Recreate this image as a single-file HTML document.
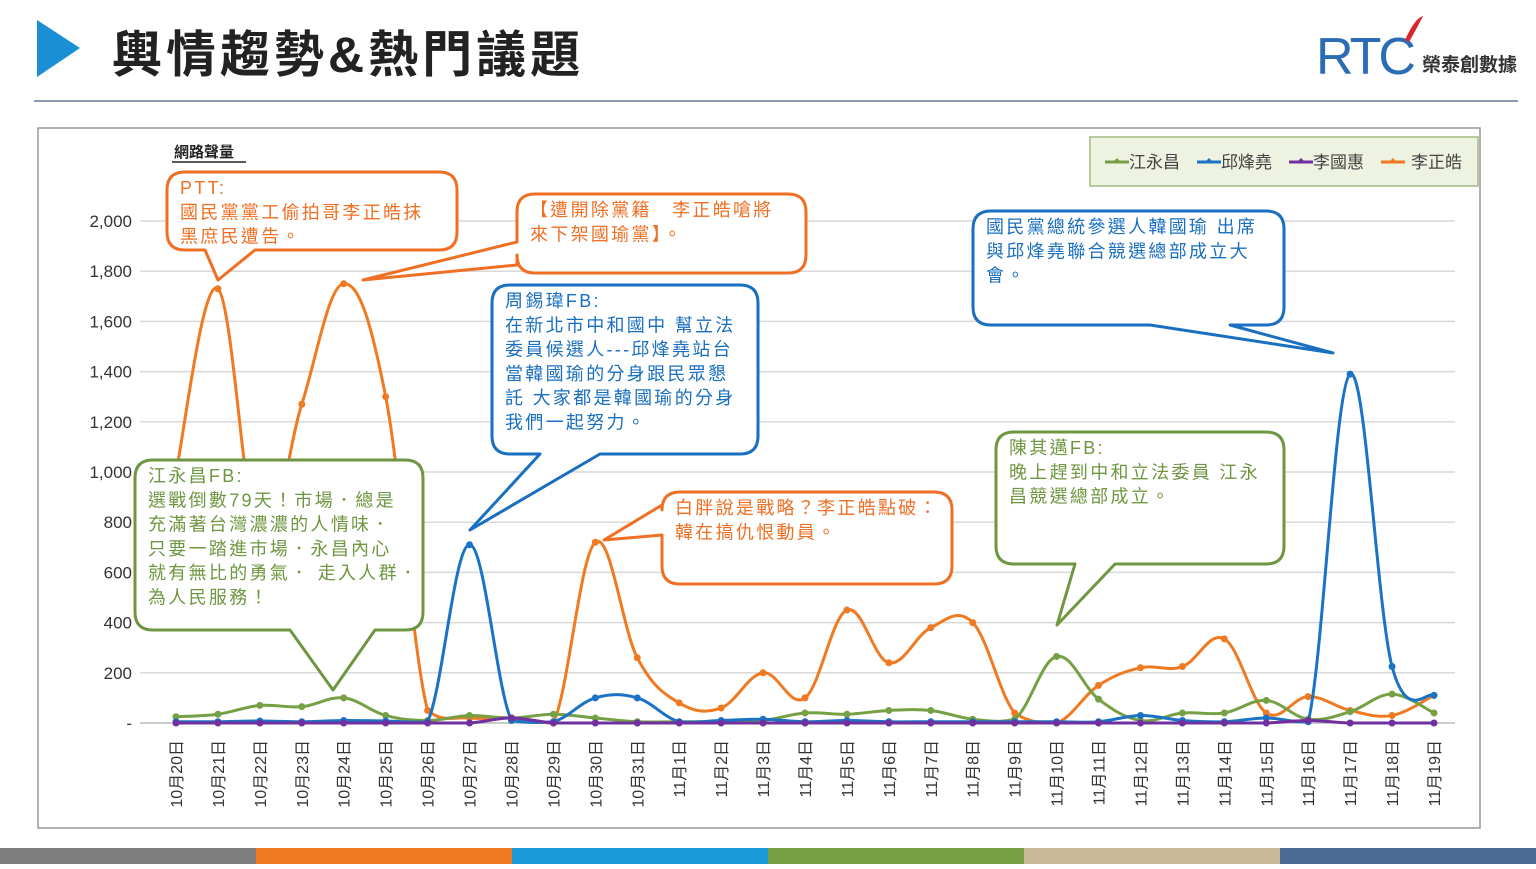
<!DOCTYPE html>
<html><head><meta charset="utf-8">
<style>
html,body{margin:0;padding:0;background:#fff;}
body{width:1536px;height:864px;overflow:hidden;position:relative;font-family:"Liberation Sans","Noto Sans CJK TC",sans-serif;}
svg text{font-family:"Liberation Sans","Noto Sans CJK TC",sans-serif;}
</style></head>
<body>
<svg id="chart" width="1536" height="864" viewBox="0 0 1536 864">
  <polygon points="37,20 37,77 80,48" fill="#1a8fd6"/>
  <text x="112" y="72" font-size="50" font-weight="bold" fill="#222" letter-spacing="4">輿情趨勢&amp;熱門議題</text>
  <g>
    <text x="1316" y="74" font-size="52" fill="#2a6db5" font-family="Liberation Sans" letter-spacing="-3">RTC</text>
    <path d="M1405,40 q10,-22 18,-24 q-6,12 -14,26z" fill="#d8262e"/>
    <text x="1422" y="71" font-size="19" font-weight="bold" fill="#333">榮泰創數據</text>
  </g>
  <line x1="34" y1="101" x2="1518" y2="101" stroke="#8a9aaa" stroke-width="2"/>
  <rect x="38" y="128" width="1442" height="700" fill="#fff" stroke="#999" stroke-width="1.5"/>
  <text x="174" y="157" font-size="15" font-weight="bold" fill="#222">網路聲量</text>
  <line x1="172" y1="162" x2="246" y2="162" stroke="#222" stroke-width="1.5"/>
  <g id="grid"></g>
  <g id="series"></g>
  <g id="xlabels"></g>
  <g id="legend">
    <rect x="1090" y="137" width="388" height="49" fill="#eef2e1" stroke="#b9c99e" stroke-width="2"/>
  </g>
  <g id="callouts"></g>
  <g>
    <rect x="0" y="848" width="256" height="16" fill="#7f7f7f"/>
    <rect x="256" y="848" width="256" height="16" fill="#f07a22"/>
    <rect x="512" y="848" width="256" height="16" fill="#1a9ad6"/>
    <rect x="768" y="848" width="256" height="16" fill="#76a044"/>
    <rect x="1024" y="848" width="256" height="16" fill="#c9b79a"/>
    <rect x="1280" y="848" width="256" height="16" fill="#4a6a94"/>
  </g>
</svg>
<script>
const categories=["10月20日","10月21日","10月22日","10月23日","10月24日","10月25日","10月26日","10月27日","10月28日","10月29日","10月30日","10月31日","11月1日","11月2日","11月3日","11月4日","11月5日","11月6日","11月7日","11月8日","11月9日","11月10日","11月11日","11月12日","11月13日","11月14日","11月15日","11月16日","11月17日","11月18日","11月19日"];
const jiangValues=[25,35,70,65,100,30,10,30,20,35,20,5,5,5,10,40,35,50,50,15,15,265,95,10,40,40,90,15,45,115,40];
const qiuValues=[5,5,8,5,10,8,5,710,10,5,100,100,5,10,15,5,10,5,5,5,5,5,5,30,10,5,20,5,1390,225,110];
const leeGuoValues=[0,0,0,0,0,0,0,0,20,0,0,0,0,0,0,0,0,0,0,0,0,0,0,0,0,0,0,10,0,0,0];
const leeZhengValues=[1000,1730,700,1270,1750,1300,50,20,20,0,720,260,80,60,200,100,450,240,380,400,40,0,150,220,225,335,40,105,50,30,110];
const yTicks=[0,200,400,600,800,1000,1200,1400,1600,1800,2000];
const yTickLabels=["-","200","400","600","800","1,000","1,200","1,400","1,600","1,800","2,000"];
const seriesNames=["江永昌","邱烽堯","李國惠","李正皓"];
const seriesColors=["#76a044","#1a73c4","#7030a0","#f07a22"];

const NS="http://www.w3.org/2000/svg";
function mk(tag,attrs,parent){const e=document.createElementNS(NS,tag);for(const k in attrs)e.setAttribute(k,attrs[k]);parent.appendChild(e);return e;}
const X0=176,X1=1434,Y0=723,Y1=221;
function xs(i){return X0+(X1-X0)*i/(categories.length-1);}
function ys(v){return Y0-(Y0-Y1)*v/2000;}

const grid=document.getElementById('grid');
yTicks.forEach((t,i)=>{
  const l=mk('line',{x1:140,x2:1455,y1:ys(t),y2:ys(t),stroke:t===0?'#bbb':'#d9d9d9','stroke-width':1.5},grid);
  
  
  const tx=mk('text',{x:132,y:ys(t)+6,'font-size':17,fill:'#333','text-anchor':'end'},grid);
  tx.textContent=yTickLabels[i];
  
  
});
const xl=document.getElementById('xlabels');
categories.forEach((c,i)=>{
  const t=mk('text',{x:0,y:0,'font-size':16,fill:'#333','text-anchor':'end',transform:`translate(${xs(i)+6},740) rotate(-90)`},xl);
  t.textContent=c;
  
  
});
function smooth(pts){
  let d=`M${pts[0][0]},${pts[0][1]}`;
  for(let i=0;i<pts.length-1;i++){
    const p0=pts[i-1]||pts[i],p1=pts[i],p2=pts[i+1],p3=pts[i+2]||p2;
    const t=0.18;
    const c1=[p1[0]+(p2[0]-p0[0])*t,Math.min(Y0,p1[1]+(p2[1]-p0[1])*t)];
    const c2=[p2[0]-(p3[0]-p1[0])*t,Math.min(Y0,p2[1]-(p3[1]-p1[1])*t)];
    d+=` C${c1[0]},${c1[1]} ${c2[0]},${c2[1]} ${p2[0]},${p2[1]}`;
  }
  return d;
}
const sg=document.getElementById('series');
const allSeries=[jiangValues,qiuValues,leeGuoValues,leeZhengValues];
[3,0,1,2].forEach(si=>{
  const vals=allSeries[si];
  const g=mk('g',{},sg);
  
  
  const pts=vals.map((v,i)=>[xs(i),ys(v)]);
  mk('path',{d:smooth(pts),fill:'none',stroke:seriesColors[si],'stroke-width':3},g);
  pts.forEach(p=>{
    const c=mk('circle',{cx:p[0],cy:p[1],r:3.5,fill:seriesColors[si]},g);
    
    
  });
});
const lg=document.getElementById('legend');
const lx=[1105,1197,1289,1381];
seriesNames.forEach((n,i)=>{
  const g=mk('g',{},lg);
  
  
  mk('line',{x1:lx[i],x2:lx[i]+24,y1:162,y2:162,stroke:seriesColors[i],'stroke-width':3},g);
  mk('path',{d:`M${lx[i]+8},162 l4,-4 l4,4z`,fill:seriesColors[i]},g);
  const t=mk('text',{x:lx[i]+24+(i===3?6:0),y:168,'font-size':17,fill:'#444'},g);
  t.textContent=n;
});
function callout(name,x,y,w,h,side,b1,b2,tip,color,lines,fs){
  const r=18,cg=document.getElementById('callouts');
  const g=mk('g',{},cg);
  
  
  let d=`M${x+r},${y} H${x+w-r} Q${x+w},${y} ${x+w},${y+r} V${y+h-r} Q${x+w},${y+h} ${x+w-r},${y+h} `;
  if(side==='bottom'){d+=`H${b2} L${tip[0]},${tip[1]} L${b1},${y+h} `;}
  d+=`H${x+r} Q${x},${y+h} ${x},${y+h-r} `;
  if(side==='left'){d+=`V${b2} L${tip[0]},${tip[1]} L${x},${b1} `;}
  d+=`V${y+r} Q${x},${y} ${x+r},${y}Z`;
  mk('path',{d:d,fill:'#fff',stroke:color,'stroke-width':3,'stroke-linejoin':'round'},g);
  lines.forEach((s,i)=>{
    const t=mk('text',{x:x+13,y:y+22+i*fs*1.35,'font-size':fs,fill:color,'letter-spacing':2.3},g);
    t.textContent=s;
  });
}
const OR="#ef6f24",BL="#1a6fc0",GR="#6f9640";
callout('callout-ptt',167,172,290,78,'bottom',205,255,[218,280],OR,["PTT:","國民黨黨工偷拍哥李正皓抹","黑庶民遭告。"],18);
callout('callout-expelled',517,194,289,79,'left',242,265,[363,280],OR,["【遭開除黨籍　李正皓嗆將","來下架國瑜黨】。"],18);
callout('callout-zhou',492,285,266,169,'bottom',540,600,[470,530],BL,["周錫瑋FB:","在新北市中和國中 幫立法","委員候選人---邱烽堯站台","當韓國瑜的分身跟民眾懇","託 大家都是韓國瑜的分身","我們一起努力。"],18);
callout('callout-han',973,211,311,114,'bottom',1150,1230,[1333,353],BL,["國民黨總統參選人韓國瑜 出席","與邱烽堯聯合競選總部成立大","會。"],18);
callout('callout-jiang',135,460,288,170,'bottom',290,375,[333,690],GR,["江永昌FB:","選戰倒數79天！市場．總是","充滿著台灣濃濃的人情味．","只要一踏進市場．永昌內心","就有無比的勇氣． 走入人群．","為人民服務！"],18);
callout('callout-strategy',662,492,290,92,'left',505,535,[604,540],OR,["白胖說是戰略？李正皓點破：","韓在搞仇恨動員。"],18);
callout('callout-chen',996,432,288,132,'bottom',1075,1115,[1057,625],GR,["陳其邁FB:","晚上趕到中和立法委員 江永","昌競選總部成立。"],18);
</script>
</body></html>
